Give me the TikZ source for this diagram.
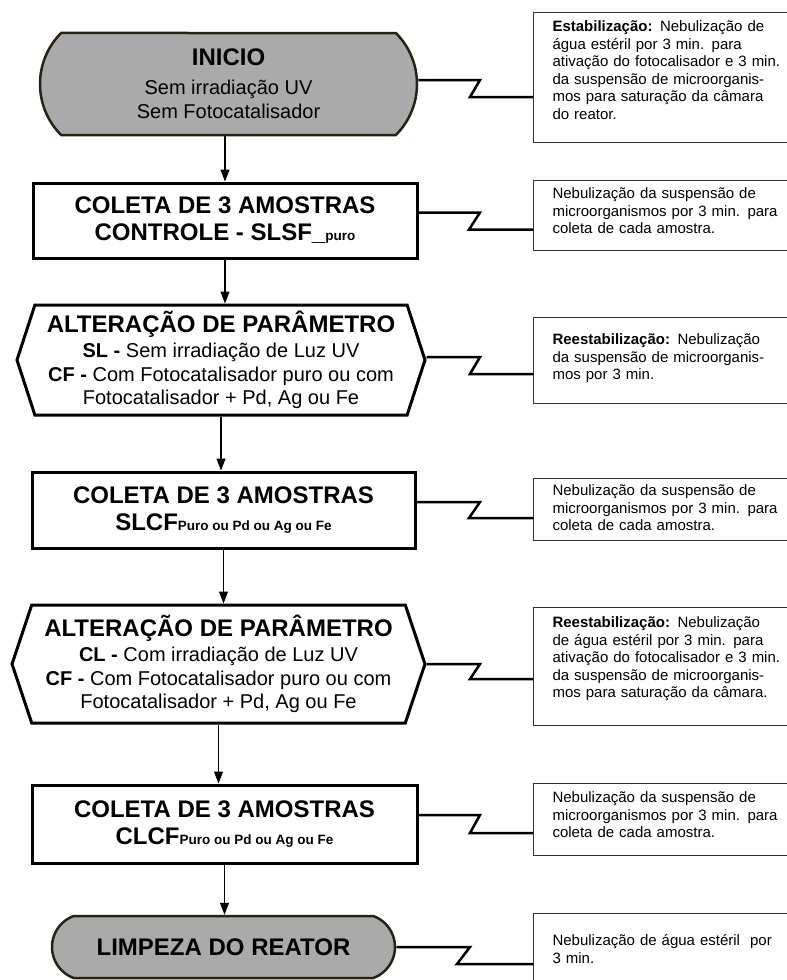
\documentclass[tikz,border=0pt]{standalone}
\usepackage{fontspec}
\setmainfont{Liberation Sans}
\usepackage{tikz}
\usetikzlibrary{shapes.misc,shapes.symbols,arrows.meta}
\definecolor{termgray}{RGB}{170,170,170}
\definecolor{termline}{RGB}{40,34,22}
\definecolor{notegray}{RGB}{50,50,50}
\newcommand{\boxtitle}{\fontsize{24}{27}\selectfont\bfseries}
\newcommand{\boxbody}{\fontsize{20}{23.5}\selectfont}
\newcommand{\notetext}{\fontsize{15}{17.6}\selectfont}
\newcommand{\subtxt}[1]{{\fontsize{13.5}{14}\selectfont\bfseries #1}}

\begin{document}
\begin{tikzpicture}[x=1pt, y=-1pt,
    terminal/.style={rounded rectangle, draw=termline, line width=2.5pt, fill=termgray, align=center, inner sep=0pt},
    sample/.style={rectangle, draw, line width=3pt, align=center, inner sep=0pt, font=\boxtitle},
    change/.style={signal, signal to=west and east, draw, line width=3pt, align=center, inner sep=0pt, font=\boxbody},
    note/.style={rectangle, draw=notegray, line width=1pt, anchor=north west, align=left, text width=240pt, inner xsep=19pt, inner ysep=0pt, font=\notetext},
    flow/.style={-{Triangle[length=12pt,width=9pt]}, line width=1.2pt},
    zig/.style={line width=2.5pt}]
    \useasboundingbox (0,0) rectangle (787,980);
    \coordinate (zx) at (480,0);

    % Start
    \node[terminal, rounded rectangle arc length=90, minimum width=377pt, minimum height=102pt, font=\fontsize{20}{24}\selectfont] (start) at (228.5,84)
        {{\boxtitle INICIO}\\[5pt] Sem irradiação UV\\ Sem Fotocatalisador};

    % Control samples
    \node[sample, minimum width=384pt, minimum height=75pt] (col1) at (225,220.5)
        {COLETA DE 3 AMOSTRAS\\ CONTROLE - SLSF\_\subtxt{puro}};

    % First parameter change
    \node[change, signal pointer angle=144, minimum width=408pt, minimum height=110pt] (alt1) at (221,360)
        {{\boxtitle ALTERAÇÃO DE PARÂMETRO}\\[2pt] \textbf{SL -} Sem irradiação de Luz UV\\ \textbf{CF -} Com Fotocatalisador puro ou com\\ Fotocatalisador + Pd, Ag ou Fe};

    % Samples without light
    \node[sample, minimum width=383pt, minimum height=76pt] (col2) at (223.5,510)
        {COLETA DE 3 AMOSTRAS\\ SLCF\subtxt{Puro ou Pd ou Ag ou Fe}};

    % Second parameter change
    \node[change, signal pointer angle=143, minimum width=413pt, minimum height=118pt] (alt2) at (218.5,664)
        {{\boxtitle ALTERAÇÃO DE PARÂMETRO}\\[2pt] \textbf{CL -} Com irradiação de Luz UV\\ \textbf{CF -} Com Fotocatalisador puro ou com\\ Fotocatalisador + Pd, Ag ou Fe};

    % Samples with light
    \node[sample, minimum width=385pt, minimum height=78pt] (col3) at (224.5,824)
        {COLETA DE 3 AMOSTRAS\\ CLCF\subtxt{Puro ou Pd ou Ag ou Fe}};

    % End
    \node[terminal, rounded rectangle arc length=140, minimum width=343pt, minimum height=62pt, font=\boxtitle] (end) at (223.5,947)
        {LIMPEZA DO REATOR};

    % Flow arrows
    \draw[flow] (start.south -| col1.north) -- (col1.north);
    \draw[flow] (col1.south) -- (col1.south |- alt1.north);
    \draw[flow] (alt1.south) -- (alt1.south |- col2.north);
    \draw[flow] (col2.south) -- (col2.south |- alt2.north);
    \draw[flow] (alt2.south) -- (alt2.south |- col3.north);
    \draw[flow] (col3.south) -- (col3.south |- end.north);

    % Notes
    \node[note, text height=19pt, text depth=111pt] (n1) at (533,12)
        {\textbf{Estabilização:} Nebulização de\\ água estéril por 3 min. para\\ ativação do fotocalisador e 3 min.\\ da suspensão de microorganis-\\ mos para saturação da câmara\\ do reator.};
    \node[note, text height=18pt, text depth=52pt] (n2) at (533,180)
        {Nebulização da suspensão de\\ microorganismos por 3 min. para\\ coleta de cada amostra.};
    \node[note, text height=27pt, text depth=59pt] (n3) at (533,317)
        {\textbf{Reestabilização:} Nebulização\\ da suspensão de microorganis-\\ mos por 3 min.};
    \node[note, text height=17pt, text depth=45pt] (n4) at (533,478)
        {Nebulização da suspensão de\\ microorganismos por 3 min. para\\ coleta de cada amostra.};
    \node[note, text height=20pt, text depth=98pt] (n5) at (533,607)
        {\textbf{Reestabilização:} Nebulização\\ de água estéril por 3 min. para\\ ativação do fotocalisador e 3 min.\\ da suspensão de microorganis-\\ mos para saturação da câmara.};
    \node[note, text height=19pt, text depth=53pt] (n6) at (533,783)
        {Nebulização da suspensão de\\ microorganismos por 3 min. para\\ coleta de cada amostra.};
    \node[note, text height=32pt, text depth=80pt] (n7) at (533,913)
        {Nebulização de água estéril\ \ por\\ 3 min.};

    % Zigzag links to notes
    \draw[zig] ([yshift=4pt]start.east) -- ([yshift=4pt]start.east -| zx) -- ++(-10,17) coordinate (z1) -- (z1 -| n1.west);
    \draw[zig] ([yshift=8pt]col1.east) -- ([yshift=8pt]col1.east -| zx) -- ++(-11,17) coordinate (z2) -- (z2 -| n2.west);
    \draw[zig] ([yshift=3pt]alt1.east) -- ([yshift=3pt]alt1.east -| zx) -- ++(-10,17) coordinate (z3) -- (z3 -| n3.west);
    \draw[zig] ([yshift=8pt]col2.east) -- ([yshift=8pt]col2.east -| zx) -- ++(-11,16) coordinate (z4) -- (z4 -| n4.west);
    \draw[zig] (alt2.east) -- (alt2.east -| zx) -- ++(-10,15) coordinate (z5) -- (z5 -| n5.west);
    \draw[zig] ([yshift=9pt]col3.east) -- ([yshift=9pt]col3.east -| zx) -- ++(-10,18) coordinate (z6) -- (z6 -| n6.west);
    \draw[zig] (end.east) -- ([xshift=-10pt]end.east -| zx) -- ++(-13,17) coordinate (z7) -- (z7 -| n7.west);
\end{tikzpicture}
\end{document}
